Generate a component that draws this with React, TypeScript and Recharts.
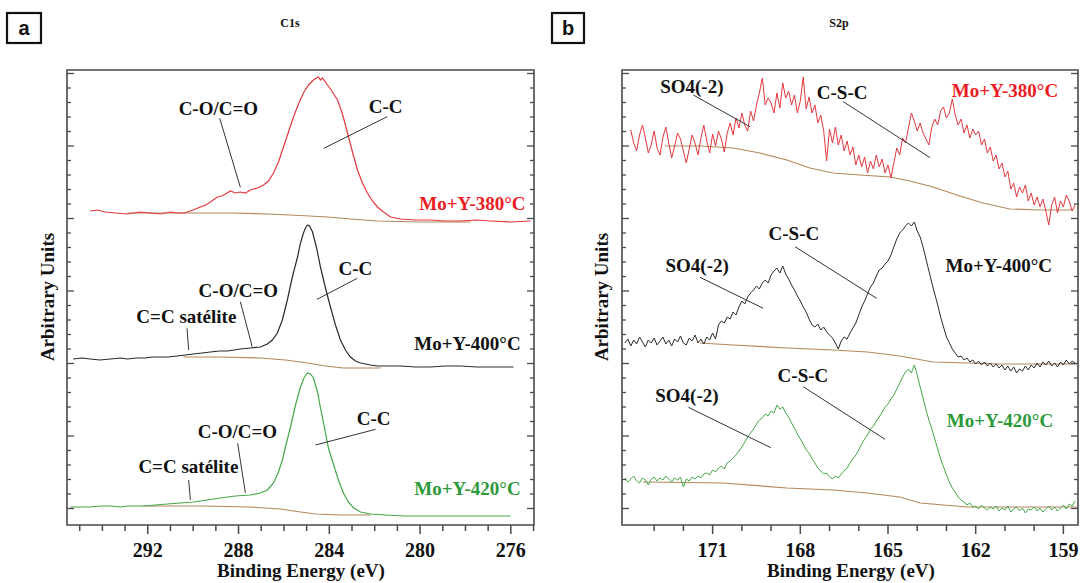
import React from 'react';
import { LineChart, Line, XAxis, YAxis, ReferenceLine, ReferenceDot, ReferenceArea } from 'recharts';

// ---------- C1s (panel a): [binding energy eV, intensity a.u.] ----------
const C1S_380 = [[294.54,312],[294.2,313],[293.87,311],[293.43,310],[292.9,309],[292.33,311],[291.9,310],[291.45,309],[291.0,311],[290.7,310],[290.4,310],[290.12,312],[289.9,314],[289.68,316],[289.45,318],[289.24,321],[288.93,326],[288.75,327],[288.58,329],[288.36,332],[288.14,330],[287.92,331],[287.7,330],[287.48,333],[287.17,335],[286.9,338],[286.68,342],[286.46,350],[286.24,361],[286.02,376],[285.8,391],[285.58,406],[285.36,419],[285.14,430],[284.92,438],[284.7,443],[284.57,445],[284.48,446],[284.39,443],[284.3,445],[284.08,438],[283.86,431],[283.64,423],[283.42,409],[283.2,390],[282.98,371],[282.76,353],[282.54,340],[282.32,330],[282.1,322],[281.88,316],[281.61,311],[281.3,306],[280.86,304],[280.2,303],[279.54,303],[278.9,302],[278.21,302],[277.5,303],[276.89,302],[276.01,301],[275.13,302]];
const C1S_380_BG = [[292.9,310],[290.57,310],[288.36,310],[286.73,309],[285.27,307.5],[284.08,306],[283.07,304],[281.88,302],[279.98,301],[277.78,301]];
const C1S_400 = [[295.29,164],[294.9,165],[294.54,164],[294.1,163],[293.65,164],[293.2,165],[292.9,164],[292.5,165],[292.11,165],[291.8,166],[291.45,166],[291.1,166],[290.7,167],[290.35,168],[289.99,169],[289.6,170],[289.24,171],[288.85,172],[288.49,172],[288.2,173],[287.92,174],[287.48,175],[287.04,176],[286.73,179],[286.51,183],[286.29,190],[286.07,203],[285.85,223],[285.63,246],[285.4,266],[285.27,280],[285.14,290],[285.05,295],[284.96,298],[284.87,297],[284.74,291],[284.56,275],[284.39,256],[284.17,235],[283.95,216],[283.73,198],[283.51,183],[283.29,173],[283.07,166],[282.85,162],[282.62,160],[282.18,158],[281.88,157],[281.4,157],[280.86,157],[280.2,156],[279.54,156],[278.9,157],[278.21,157],[277.5,156],[276.89,156],[275.88,156]];
const C1S_400_BG = [[290.43,166],[288.8,166],[287.04,165],[285.93,163],[284.96,160],[284.17,157],[283.38,155],[281.74,155]];
const C1S_420 = [[295.42,16],[295.0,16],[294.54,16],[294.1,17],[293.65,17],[293.2,16],[292.9,17],[292.55,17],[292.2,17],[291.67,18],[291.14,19],[290.57,20],[289.99,21],[289.37,23],[288.8,25],[288.14,27],[287.48,28],[287.04,30],[286.73,33],[286.46,40],[286.24,51],[286.07,63],[285.89,80],[285.71,96],[285.49,118],[285.27,136],[285.1,146],[284.96,150],[284.83,149],[284.7,145],[284.52,131],[284.39,115],[284.21,95],[284.04,75],[283.82,59],[283.6,43],[283.38,30],[283.16,21],[282.93,15],[282.62,11],[282.18,9],[281.52,8],[280.7,7],[279.98,7],[279.1,7],[278.21,7],[277.5,7],[276.89,7],[276.01,7]];
const C1S_420_BG = [[292.2,17],[289.68,17],[287.48,16],[286.15,14],[285.27,11],[284.61,9],[283.51,8],[282.18,8]];

// ---------- S2p (panel b): intensities on a 0.1 eV grid ----------
const S2P_380_START = 173.8;
const S2P_START = 174.0;
const S2P_STEP = 0.1;
const S2P_380 = [
393,380,372,388,398,385,370,378,392,375,
368,386,396,380,365,377,390,384,372,360,
374,388,380,368,385,398,382,370,389,377,
392,384,371,390,400,388,405,395,410,398,
392,412,402,418,430,445,418,425,420,410,
430,415,440,425,432,418,428,410,422,446,
414,426,410,418,400,408,392,362,394,380,
396,378,388,372,382,368,376,358,368,356,
366,350,362,354,368,356,364,350,358,345,
360,375,368,385,380,395,410,402,392,400,
390,384,378,396,404,398,412,416,405,410,
424,408,398,404,390,398,385,394,388,392,
378,384,370,376,362,368,354,360,346,352,
334,340,326,336,330,338,322,330,318,326,
316,324,312,298,318,326,310,322,316,328,322,312,318];
const S2P_380_BG = [[172.63,377],[171.43,377],[170.3,375],[169.38,370],[168.46,363],[167.67,355],[166.88,350],[165.96,348],[164.93,346],[164.25,342],[163.46,336],[162.54,327],[161.75,320],[160.83,314],[159.8,313],[158.67,313]];
const S2P_400 = [
180,184,177,183,179,186,181,176,183,180,
185,178,182,186,179,183,177,184,181,187,
180,178,185,182,188,180,184,179,186,183,
190,184,198,202,200,206,204,211,208,216,
222,219,226,230,233,237,234,240,243,240,
248,252,255,250,257,249,244,238,233,227,
222,216,211,204,198,196,199,193,196,191,
188,185,180,174,182,186,184,190,195,200,
208,216,222,229,236,240,247,253,255,259,
262,268,276,284,290,293,297,300,297,301,
292,286,276,264,252,240,229,218,206,196,
186,180,174,170,166,167,163,165,161,163,
159,162,158,161,157,160,156,159,155,158,
153,157,152,156,150,154,152,157,153,158,
155,160,156,161,158,162,157,160,156,161,
158,163,159,162,160];
const S2P_400_BG = [[171.43,180],[170.3,178],[168.46,175],[166.88,173],[165.7,171],[164.6,167],[163.46,161],[162.3,160],[161.17,159],[158.53,159]];
const S2P_420 = [
45,41,44,47,42,40,45,43,38,44,
46,42,45,43,47,44,41,45,43,46,
36,44,42,46,44,47,45,49,50,48,
53,51,55,57,54,60,62,65,68,72,
76,81,86,90,94,99,103,105,109,107,
112,110,118,114,116,110,106,100,95,89,
84,79,73,70,64,60,55,52,49,50,
46,44,47,45,49,52,55,60,64,68,
73,79,84,88,94,97,102,106,111,116,
119,124,128,134,140,146,151,154,150,158,
148,136,125,113,103,94,84,74,64,56,
48,41,35,31,26,23,21,18,20,16,
17,14,18,15,13,16,14,17,12,15,
13,17,11,14,16,12,15,10,14,13,
16,12,15,11,14,17,13,16,12,15,
18,14,19,17,22];
const S2P_420_BG = [[173.38,41],[170.65,40],[168.46,35],[166.88,33],[165.72,30],[164.6,26],[163.9,20],[163.1,18],[162.3,16],[158.53,16]];

// ---------- axes ----------
const C1S_DOMAIN: [number, number] = [274.98, 295.56];
const C1S_TICKS = [275,276,277,278,279,280,281,282,283,284,285,286,287,288,289,290,291,292,293,294,295];
const C1S_LABELS = [292, 288, 284, 280, 276];
const S2P_DOMAIN: [number, number] = [158.5, 174.1];
const S2P_TICKS = [159,160,161,162,163,164,165,166,167,168,169,170,171,172,173];
const S2P_LABELS = [171, 168, 165, 162, 159];
const Y_DOMAIN: [number, number] = [-2, 453];
const Y_STEP = 14.5;
const Y_TICKS = Array.from({ length: 31 }, (_, i) => Y_STEP * (i + 1));

// ---------- annotations ----------
const RED_LINE = '#e2383e';
const RED_TEXT = '#ec1c24';
const BLACK_LINE = '#2a2a2a';
const GREEN_LINE = '#45a849';
const GREEN_TEXT = '#2c9a3a';
const BROWN = '#b3875c';
const FRAME = '#4a4a4a';
const SERIF = '"Liberation Serif", "Times New Roman", serif';

type Note = { text: string; e: number; v: number; color?: string; anchor?: 'middle' | 'end' };
const C1S_NOTES: Note[] = [
  { text: 'C-O/C=O', e: 288.89, v: 408 },
  { text: 'C-C', e: 281.52, v: 410 },
  { text: 'Mo+Y-380°C', e: 275.35, v: 313, color: RED_TEXT, anchor: 'end' },
  { text: 'C-C', e: 282.85, v: 248 },
  { text: 'C-O/C=O', e: 288.01, v: 226 },
  { text: 'C=C satélite', e: 290.3, v: 200 },
  { text: 'Mo+Y-400°C', e: 275.57, v: 173, anchor: 'end' },
  { text: 'C-C', e: 282.05, v: 98 },
  { text: 'C-O/C=O', e: 288.05, v: 85 },
  { text: 'C=C satélite', e: 290.21, v: 50 },
  { text: 'Mo+Y-420°C', e: 275.57, v: 28, color: GREEN_TEXT, anchor: 'end' },
];
const C1S_LEADERS = [
  [[288.83, 404.7], [287.92, 335.7]],
  [[281.45, 406.3], [284.24, 374.7]],
  [[282.77, 244.7], [284.54, 223.7]],
  [[287.92, 221.3], [287.4, 176.3]],
  [[290.27, 194.7], [290.2, 173]],
  [[281.96, 93.7], [284.61, 78]],
  [[288.04, 79.7], [287.7, 30.3]],
  [[290.2, 43], [290.12, 23]],
];
const S2P_NOTES: Note[] = [
  { text: 'SO4(-2)', e: 171.71, v: 430 },
  { text: 'C-S-C', e: 166.57, v: 424 },
  { text: 'Mo+Y-380°C', e: 159.18, v: 426, color: RED_TEXT, anchor: 'end' },
  { text: 'C-S-C', e: 168.22, v: 283 },
  { text: 'SO4(-2)', e: 171.53, v: 251 },
  { text: 'Mo+Y-400°C', e: 159.39, v: 251, anchor: 'end' },
  { text: 'C-S-C', e: 167.91, v: 141 },
  { text: 'SO4(-2)', e: 171.88, v: 121 },
  { text: 'Mo+Y-420°C', e: 159.35, v: 96, color: GREEN_TEXT, anchor: 'end' },
];
const S2P_LEADERS = [
  [[171.66, 428], [169.72, 396.3]],
  [[166.53, 421.3], [163.56, 365.3]],
  [[168.18, 276.3], [165.39, 224.7]],
  [[171.43, 245.7], [169.27, 214.7]],
  [[167.9, 136.3], [165.1, 83.7]],
  [[171.83, 115.7], [169.01, 75.3]],
];

type Pt = { e: number; v: number };
const pairs = (arr: number[][]): Pt[] => arr.map(([e, v]) => ({ e, v }));
const grid = (start: number, vals: number[]): Pt[] =>
  vals.map((v, i) => ({ e: Number((start - S2P_STEP * i).toFixed(2)), v }));

const makeXTick = (labels: number[]) => (props: any) => {
  const { x, y, payload } = props;
  const major = labels.includes(payload.value);
  return (
    <g>
      <line x1={x} x2={x} y1={y} y2={y + (major ? 9 : 6)} stroke={FRAME} strokeWidth={1.5} />
      {major && (
        <text x={x} y={y + 32} textAnchor="middle" fontFamily={SERIF} fontWeight="bold" fontSize={20} fill="#111">
          {payload.value}
        </text>
      )}
    </g>
  );
};

const makeYTick = (dir: number) => (props: any) => {
  const { x, y, payload } = props;
  const k = Math.round(payload.value / Y_STEP) - 1;
  const len = k % 5 === 0 ? 7 : 4;
  return <line x1={x} x2={x + dir * len} y1={y} y2={y} stroke={FRAME} strokeWidth={1.3} />;
};

type Series = { data: Pt[]; color: string; width?: number };

function Panel(props: {
  width: number;
  margin: { top: number; left: number; right: number; bottom: number };
  domain: [number, number];
  ticks: number[];
  labels: number[];
  series: Series[];
  notes: Note[];
  leaders: number[][][];
}) {
  const { width, margin, domain, ticks, labels, series, notes, leaders } = props;
  return (
    <LineChart width={width} height={583} margin={margin}>
      <XAxis xAxisId="x" dataKey="e" type="number" domain={domain} reversed allowDataOverflow
        ticks={ticks} interval={0} tick={makeXTick(labels)} tickLine={false} axisLine={false}
        tickSize={0} tickMargin={0} height={58} />
      <YAxis yAxisId="y" type="number" domain={Y_DOMAIN} allowDataOverflow ticks={Y_TICKS} interval={0}
        tick={makeYTick(1)} tickLine={false} axisLine={false} tickSize={0} tickMargin={0} width={1} />
      <YAxis yAxisId="r" orientation="right" type="number" domain={Y_DOMAIN} allowDataOverflow ticks={Y_TICKS}
        interval={0} tick={makeYTick(-1)} tickLine={false} axisLine={false} tickSize={0} tickMargin={0} width={1} />
      <ReferenceArea xAxisId="x" yAxisId="y" x1={domain[0]} x2={domain[1]} y1={Y_DOMAIN[0]} y2={Y_DOMAIN[1]}
        fill="none" fillOpacity={0} stroke={FRAME} strokeWidth={1.6} ifOverflow="visible" />
      {series.map((s, i) => (
        <Line key={i} xAxisId="x" yAxisId="y" data={s.data} dataKey="v" type="linear" stroke={s.color}
          strokeWidth={s.width ?? 1.2} dot={false} activeDot={false} isAnimationActive={false} />
      ))}
      {leaders.map((l, i) => (
        <ReferenceLine key={'l' + i} xAxisId="x" yAxisId="y" ifOverflow="visible"
          segment={[{ x: l[0][0], y: l[0][1] }, { x: l[1][0], y: l[1][1] }]} stroke="#333" strokeWidth={1} />
      ))}
      {notes.map((n, i) => (
        <ReferenceDot key={'n' + i} xAxisId="x" yAxisId="y" x={n.e} y={n.v} r={0} ifOverflow="visible"
          shape={(p: any) => (
            <text x={p.cx} y={p.cy} textAnchor={n.anchor ?? 'middle'} fontFamily={SERIF} fontWeight="bold"
              fontSize={19} fill={n.color ?? '#111'}>
              {n.text}
            </text>
          )} />
      ))}
    </LineChart>
  );
}

export default function App() {
  const c1sSeries: Series[] = [
    { data: pairs(C1S_380_BG), color: BROWN },
    { data: pairs(C1S_400_BG), color: BROWN },
    { data: pairs(C1S_420_BG), color: BROWN },
    { data: pairs(C1S_380), color: RED_LINE },
    { data: pairs(C1S_400), color: BLACK_LINE },
    { data: pairs(C1S_420), color: GREEN_LINE },
  ];
  const s2pSeries: Series[] = [
    { data: pairs(S2P_380_BG), color: BROWN },
    { data: pairs(S2P_400_BG), color: BROWN },
    { data: pairs(S2P_420_BG), color: BROWN },
    { data: grid(S2P_380_START, S2P_380), color: RED_LINE, width: 1 },
    { data: grid(S2P_START, S2P_400), color: BLACK_LINE, width: 1 },
    { data: grid(S2P_START, S2P_420), color: GREEN_LINE, width: 1 },
  ];
  const textStyle = { fontFamily: SERIF, fontWeight: 'bold' as const, fill: '#111' };
  return (
    <div style={{ position: 'absolute', left: 0, top: 0, width: 1080, height: 583, background: '#fff', overflow: 'hidden' }}>
      <div style={{ position: 'absolute', left: 0, top: 0 }}>
        <Panel width={540} margin={{ top: 70, left: 66, right: 5, bottom: 0 }} domain={C1S_DOMAIN}
          ticks={C1S_TICKS} labels={C1S_LABELS} series={c1sSeries} notes={C1S_NOTES} leaders={C1S_LEADERS} />
      </div>
      <div style={{ position: 'absolute', left: 540, top: 0 }}>
        <Panel width={540} margin={{ top: 70, left: 81, right: 1, bottom: 0 }} domain={S2P_DOMAIN}
          ticks={S2P_TICKS} labels={S2P_LABELS} series={s2pSeries} notes={S2P_NOTES} leaders={S2P_LEADERS} />
      </div>
      <svg width={1080} height={583} style={{ position: 'absolute', left: 0, top: 0, pointerEvents: 'none' }}>
        <rect x={7} y={13} width={34} height={30} fill="none" stroke="#111" strokeWidth={2.2} />
        <text x={24} y={35} textAnchor="middle" fontFamily='"Liberation Sans", Arial, sans-serif' fontWeight="bold" fontSize={20} fill="#111">a</text>
        <rect x={552} y={13} width={32} height={30} fill="none" stroke="#111" strokeWidth={2.2} />
        <text x={568} y={35} textAnchor="middle" fontFamily='"Liberation Sans", Arial, sans-serif' fontWeight="bold" fontSize={20} fill="#111">b</text>
        <text x={290} y={27} textAnchor="middle" fontSize={12} {...textStyle}>C1s</text>
        <text x={839} y={27} textAnchor="middle" fontSize={12} {...textStyle}>S2p</text>
        <text transform="translate(47,297) rotate(-90)" dy="0.35em" textAnchor="middle" fontSize={19} {...textStyle}>Arbitrary Units</text>
        <text transform="translate(601,297) rotate(-90)" dy="0.35em" textAnchor="middle" fontSize={19} {...textStyle}>Arbitrary Units</text>
        <text x={301} y={577} textAnchor="middle" fontSize={19} {...textStyle}>Binding Energy (eV)</text>
        <text x={851} y={577} textAnchor="middle" fontSize={19} {...textStyle}>Binding Energy (eV)</text>
      </svg>
    </div>
  );
}
